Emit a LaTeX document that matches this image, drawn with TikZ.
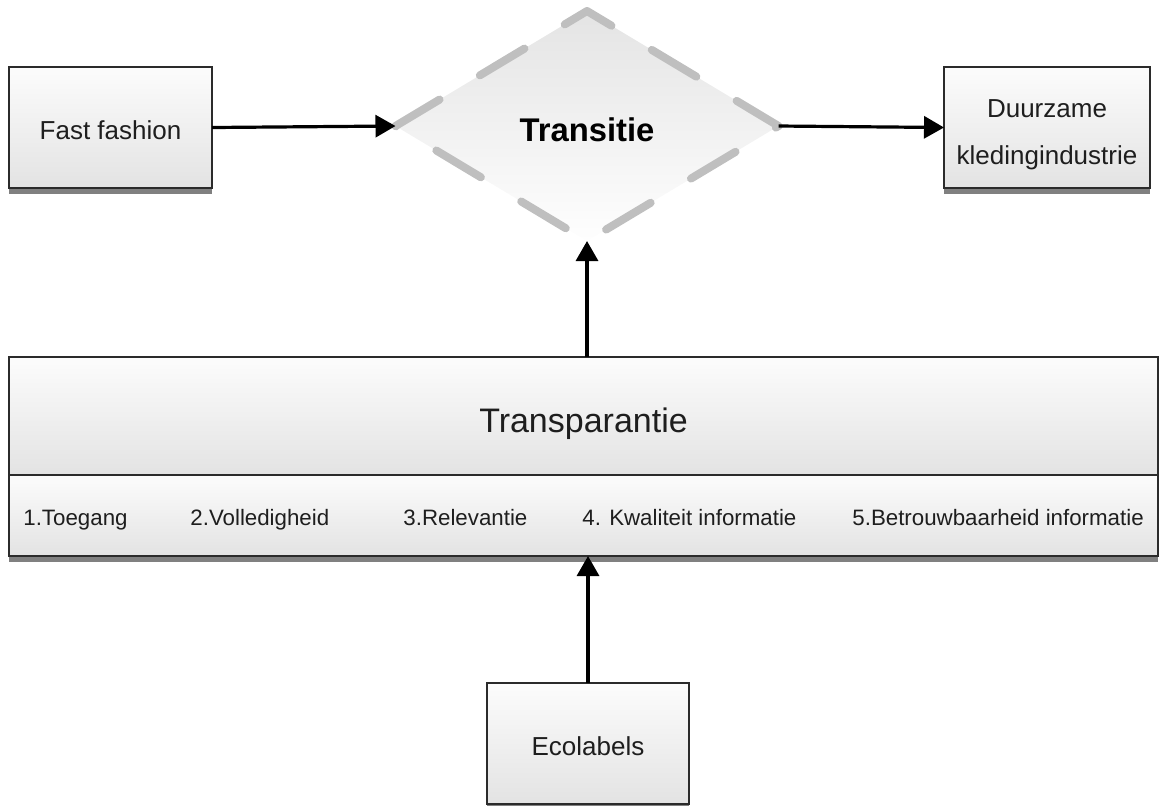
\documentclass[tikz,border=0pt]{standalone}
\usepackage{fontspec}
\setmainfont{Liberation Sans}
\usetikzlibrary{arrows.meta,shapes.geometric,shadows}
\definecolor{boxtop}{HTML}{FCFCFC}
\definecolor{boxbot}{HTML}{E3E3E3}
\definecolor{dmtop}{HTML}{E4E4E4}
\definecolor{dmbot}{HTML}{FEFEFE}
\definecolor{dashgray}{HTML}{BFBFBF}
\definecolor{edge}{HTML}{2B2B2B}
\definecolor{shadowgray}{HTML}{808080}
\definecolor{txt}{HTML}{1E1E1E}
\newcommand{\lowr}[2]{\raisebox{-#1}[\height][\depth]{#2}}
\tikzset{
  box/.style={draw=edge, line width=1pt, rectangle, anchor=north west, inner sep=0pt, outer sep=0pt,
    top color=boxtop, bottom color=boxbot, text=txt, align=center,
    font=\fontsize{13}{23.5}\selectfont},
  shadowed/.style={drop shadow={shadow xshift=0pt, shadow yshift=-3pt, fill=shadowgray, opacity=1}},
  item/.style={anchor=base west, inner sep=0pt, text=txt, font=\fontsize{11.15}{13}\selectfont},
  conn/.style={line width=1.6pt, -{Triangle[length=10pt,width=11pt]}},
  dborder/.style={draw=dashgray, line width=4pt, line cap=round, line join=round,
    dash pattern=on 26pt off 23.5pt, dash phase=13pt}
}
\begin{document}
\begin{tikzpicture}[x=0.5pt,y=-0.5pt]
\useasboundingbox (0,0) rectangle (1159,805);
% boxes
\node[box, shadowed, minimum width=101.5pt, minimum height=60.5pt] (ff) at (9,67) {\lowr{1.2pt}{Fast fashion}};
\node[box, shadowed, minimum width=103pt, minimum height=60.5pt] (dk) at (944,67)
  {\lowr{2pt}{\begin{tabular}{@{}c@{}}Duurzame\\kledingindustrie\end{tabular}}};
\node[box, shadowed, minimum width=574.5pt, minimum height=40.5pt] (items) at (9,475) {};
\node[box, minimum width=574.5pt, minimum height=59pt, font=\fontsize{17}{20}\selectfont] (tr) at (9,357) {\lowr{4pt}{Transparantie}};
\node[box, shadowed, minimum width=101pt, minimum height=60.5pt] (eco) at (487,683) {\lowr{1.5pt}{Ecolabels}};
% items
\node[item] (i1) at (23,525) {1.Toegang};
\node[item] (i2) at (190,525) {2.Volledigheid};
\node[item] (i3) at (403,525) {3.Relevantie};
\node[item] (i4) at (582,525) {4. Kwaliteit informatie};
\node[item] (i5) at (852,525) {5.Betrouwbaarheid informatie};
% diamond
\node[diamond, draw=none, inner sep=0pt, outer sep=0pt, minimum width=191.5pt, minimum height=115pt,
  top color=dmtop, bottom color=dmbot, text=black, font=\bfseries\fontsize{16.4}{19}\selectfont] (dm) at (587,126) {\lowr{2pt}{Transitie}};
\draw[dborder] (dm.north) -- (dm.west) -- (dm.south) -- (dm.east) -- cycle;
% connectors
\draw[conn] (ff.east) -- (dm.west);
\draw[conn] (dm.east) -- (dk.west);
\draw[conn] (tr.north -| dm.south) -- (dm.south);
\draw[conn] (eco.north) -- (items.south -| eco.north);
\end{tikzpicture}
\end{document}
